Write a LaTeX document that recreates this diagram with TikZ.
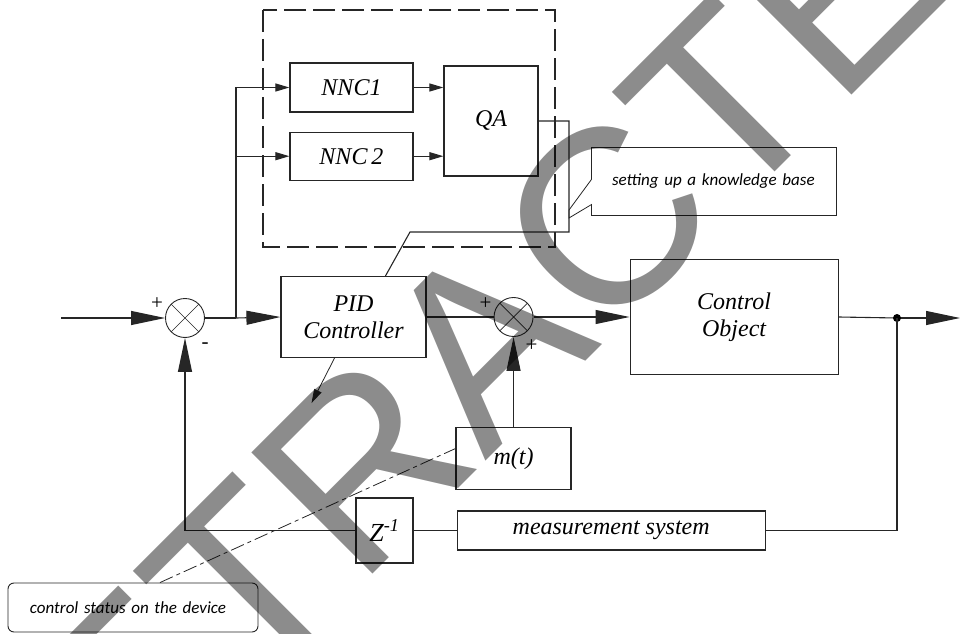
\documentclass[tikz,border=0pt]{standalone}
\usepackage{fontspec}
\setmainfont{Liberation Serif}
\newfontfamily\stampfont{Liberation Sans}
\newfontfamily\notefont{Carlito}
\usetikzlibrary{arrows.meta,positioning}

\begin{document}
\begin{tikzpicture}[
  x=1pt,y=-1pt,
  font=\fontsize{24}{27}\selectfont\itshape,
  >={Triangle[length=34pt,width=14pt]},
  line width=1.1pt,draw=black!85,
  blk/.style={draw=black!85,line width=1.2pt,inner sep=0pt,align=center},
  sumj/.style={draw=black!85,line width=0.9pt,circle,minimum size=39pt,inner sep=0pt,
    path picture={\draw[line width=0.7pt]
      (path picture bounding box.north west) -- (path picture bounding box.south east)
      (path picture bounding box.north east) -- (path picture bounding box.south west);}},
  sgn/.style={font=\fontsize{21}{21}\selectfont,inner sep=0pt},
  sarrow/.style={-{Triangle[length=14pt,width=8pt]}},
  note/.style={inner sep=0pt,font=\notefont\fontsize{17}{20}\selectfont\itshape,align=left},
  grpframe/.style={line width=1.2pt,dash pattern=on 22pt off 7pt},
  hintline/.style={line width=0.8pt,dash pattern=on 14pt off 4pt on 4pt off 4pt},
  stamp/.style={font=\stampfont\fontsize{249}{249}\selectfont,text=black,
    text opacity=0.45,rotate=45,anchor=base,inner sep=0pt}
]
\useasboundingbox (0,0) rectangle (962,634);

% main loop
\coordinate (in) at (61,318);
\node[sumj] (sum1) at (185,318) {};
\coordinate (br) at (236,318);
\node[blk,minimum width=145pt,minimum height=81pt] (pid) at (353.5,317) {PID\\Controller};
\node[sumj,right=67pt of pid] (sum2) {};
\node[blk,minimum width=208pt,minimum height=115pt,right=96pt of sum2] (plant) {Control\\Object};
\coordinate (dot) at (897,318);
\coordinate (out) at (960,318);

% neural block
\node[blk,minimum width=123pt,minimum height=49pt] (nnc1) at (351.5,87.5) {NNC1};
\node[blk,minimum width=123pt,minimum height=48pt,below=19pt of nnc1] (nnc2) {NNC\,2};
\node[blk,minimum width=94pt,minimum height=110pt] (qa) at (491,121) {QA};
\draw[grpframe] (263,10) rectangle (555,247);

% feedback part
\node[blk,minimum width=115pt,minimum height=62pt,below=90pt of sum2] (mt) {m(t)};
\node[blk,minimum width=57pt,minimum height=65pt,font=\fontsize{26}{28}\selectfont\itshape]
  (zinv) at (384.5,530.5) {Z\textsuperscript{-1}};
\node[blk,minimum width=308pt,minimum height=39pt,right=43pt of zinv] (meas) {measurement system};

% signs
\node[sgn] (p1) at ([shift={(-28,-14)}]sum1) {+};
\node[sgn] (m1) at ([shift={(20,28)}]sum1) {-};
\node[sgn] (p2) at ([shift={(-28,-13)}]sum2) {+};
\node[sgn] (p3) at ([shift={(18,29)}]sum2) {+};

% notes
\node[note,text width=204pt,inner xsep=20pt,minimum height=67pt] (kb) at (714,181.5)
  {setting up a knowledge base};
\coordinate (kbtipa) at (569,210);
\coordinate (kbtipb) at (569,218);
\draw[line width=0.8pt] (kb.north west) -- ([yshift=-32pt]kb.north west) -- (kbtipa)
  -- (kbtipb) -- ([yshift=11pt]kb.south west) -- (kb.south west) -- (kb.south east)
  -- (kb.north east) -- cycle;
\node[note,draw=black!85,line width=0.9pt,rounded corners=6pt,text width=206pt,
  inner xsep=22pt,minimum height=49pt] (ctl) at (133,607.5) {control status on the device};

% connections
\draw[->] (in) -- (sum1.west);
\draw (sum1.east) -- (br);
\draw[->] (br) -- (pid.west);
\draw[sarrow] (br) |- (nnc1.west);
\draw[sarrow] (br) |- (nnc2.west);
\draw[sarrow] (nnc1.east) -- (nnc1.east -| qa.west);
\draw[sarrow] (nnc2.east) -- (nnc2.east -| qa.west);
\coordinate (qc) at (569,232);
\coordinate (qd) at (410,232);
\draw (qa.east) -| (qc) -- (qd) -- ([xshift=32pt]pid.north);
\draw (pid.east) -- (sum2.west);
\draw[->] (sum2.east) -- (plant.west);
\draw (plant.east) -- (dot);
\draw[->] (dot) -- (out);
\fill (dot) circle (4pt);
\draw (dot) |- (meas.east);
\draw (meas.west) -- (zinv.east);
\draw[->] (zinv.west) -| (sum1.south);
\draw[->] (mt.north) -- (sum2.south);
\draw[sarrow,line width=0.8pt] ([xshift=-19pt]pid.south) -- ++(-23,45);
\draw[hintline] ([xshift=27pt]ctl.north) -- ([yshift=10pt]mt.west);

% watermark over the diagram
\node[stamp] (stamp) at (544,403) {RETRACTED};

\end{tikzpicture}
\end{document}
